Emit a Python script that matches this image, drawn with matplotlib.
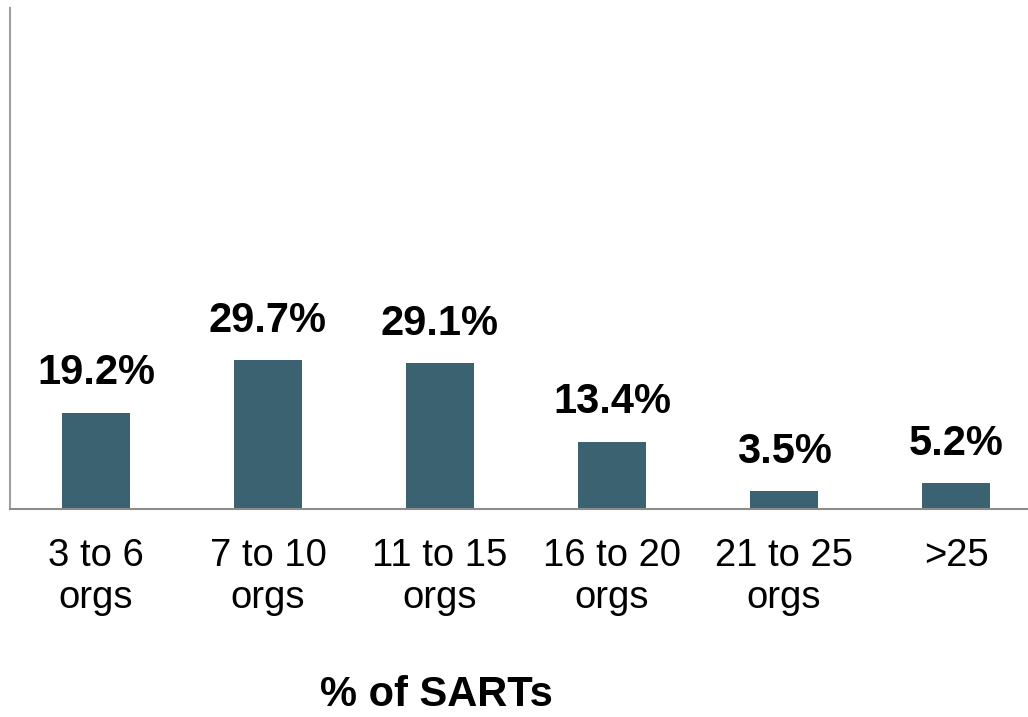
import matplotlib
matplotlib.use("Agg")
import matplotlib.pyplot as plt

categories = ["3 to 6\norgs", "7 to 10\norgs", "11 to 15\norgs", "16 to 20\norgs", "21 to 25\norgs", ">25"]
values = [19.2, 29.7, 29.1, 13.4, 3.5, 5.2]
value_labels = ["19.2%", "29.7%", "29.1%", "13.4%", "3.5%", "5.2%"]
xlabel = "% of SARTs"

plt.rcParams['font.family'] = ['Liberation Sans', 'DejaVu Sans']

fig = plt.figure(figsize=(10.28, 7.17), dpi=100)
W, H = 1028, 717
ax = fig.add_axes([10 / W, (H - 509) / H, (W - 10) / W, (509 - 8) / H])

x = list(range(len(categories)))
bars = ax.bar(x, values, width=0.395, color="#3A6271")

ax.set_xlim(-0.5, -0.5 + 1018 / 172)
ax.set_ylim(0, 100)
ax.set_xticks(x)
ax.set_xticklabels(categories, fontsize=27.5, linespacing=1.22)
ax.tick_params(axis='x', length=0, pad=21)
ax.set_yticks([])
for s in ["top", "right"]:
    ax.spines[s].set_visible(False)
ax.spines["left"].set_color("#A0A0A0")
ax.spines["bottom"].set_color("#8C8C8C")
ax.spines["left"].set_linewidth(1.5)
ax.spines["bottom"].set_linewidth(1.5)

for xi, v, lab in zip(x, values, value_labels):
    ax.annotate(lab, (xi, v), xytext=(0, 14), textcoords="offset points",
                ha="center", va="bottom", fontsize=30, fontweight="bold")

fig.text(436 / W, 1 - 695 / H, xlabel, ha="center", va="center",
         fontsize=30, fontweight="bold")

fig.savefig("out.png", dpi=100)
